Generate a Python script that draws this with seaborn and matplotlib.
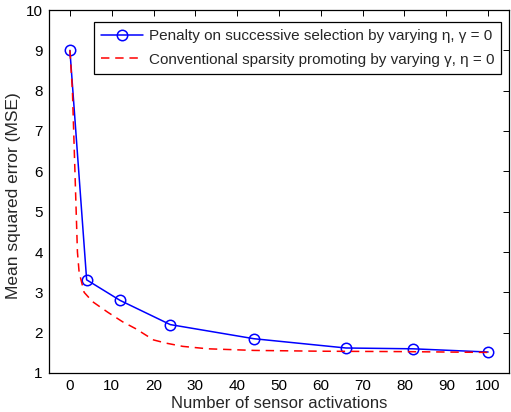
import matplotlib
matplotlib.use("Agg")
import matplotlib.pyplot as plt
import seaborn as sns
import pandas as pd

blue_x = [0, 4, 12, 24, 44, 66, 82, 100]
blue_y = [9.0, 3.31, 2.80, 2.20, 1.85, 1.62, 1.60, 1.52]

red_x = [0, 0.6, 1.2, 1.8, 2.2, 3.4, 5.4, 9, 12.6, 15.7, 20, 23, 27, 33, 44, 60, 80, 100]
red_y = [9.0, 8.0, 6.0, 4.0, 3.5, 3.0, 2.77, 2.51, 2.27, 2.10, 1.82, 1.74, 1.66, 1.60, 1.56, 1.54, 1.53, 1.51]

label_blue = "Penalty on successive selection by varying η, γ = 0"
label_red = "Conventional sparsity promoting by varying γ, η = 0"

x_ticks = [0, 10, 20, 30, 40, 50, 60, 70, 80, 90, 100]
y_ticks = [1, 2, 3, 4, 5, 6, 7, 8, 9, 10]

sns.set_style("white")
plt.rcParams['font.family'] = ['Liberation Sans', 'DejaVu Sans']

W, H = 511, 412
fig = plt.figure(figsize=(W / 100, H / 100), dpi=100)
L, R, T, B = 49, 509, 10, 373
ax = fig.add_axes([L / W, 1 - B / H, (R - L) / W, (B - T) / H])

dfb = pd.DataFrame({"x": blue_x, "y": blue_y})
dfr = pd.DataFrame({"x": red_x, "y": red_y})

sns.lineplot(data=dfb, x="x", y="y", ax=ax, color="#0000ff", lw=1.1,
             marker="o", markersize=7.5, markerfacecolor="none",
             markeredgecolor="#0000ff", markeredgewidth=1.1, label=label_blue)
sns.lineplot(data=dfr, x="x", y="y", ax=ax, color="#ff0000", lw=1.1,
             label=label_red)
ax.lines[-1].set_linestyle((0, (5.5, 3.8)))

ax.set_xlim(-5, 105)
ax.set_ylim(1, 10)
ax.set_xticks(x_ticks)
ax.set_yticks(y_ticks)
ax.tick_params(direction="in", top=True, right=True, length=4, width=0.7,
               labelsize=11, colors="black", pad=4.5)
for s in ax.spines.values():
    s.set_color("black")
    s.set_linewidth(0.9)

ax.set_xlabel("Number of sensor activations", fontsize=12)
ax.xaxis.set_label_coords(0.5, -34.5 / (B - T))
ax.xaxis.label.set_va("baseline")
ax.set_ylabel("Mean squared error (MSE)", fontsize=12.5)
ax.yaxis.set_label_coords((18 - L) / (R - L), 0.49)
ax.yaxis.label.set_va("baseline")

leg = ax.legend(loc="upper right", fontsize=11, frameon=True, fancybox=False,
                edgecolor="black", framealpha=1, borderpad=0.45,
                handlelength=2.75, handletextpad=0.35, labelspacing=0.65,
                borderaxespad=0,
                bbox_to_anchor=((501 - L) / (R - L), 1 - (22 - T) / (B - T)))
leg.get_frame().set_linewidth(0.9)

fig.savefig("out.png", dpi=100)
